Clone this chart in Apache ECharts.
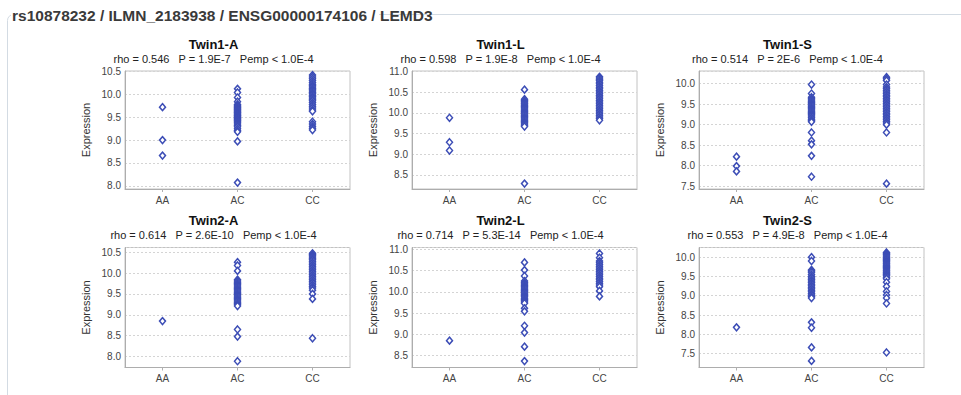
<!DOCTYPE html>
<html><head><meta charset="utf-8">
<script src="https://cdn.jsdelivr.net/npm/echarts@6/dist/echarts.min.js"></script>
<style>html,body{margin:0;padding:0;background:#fff}#c{width:961px;height:395px}</style>
</head><body><div id="c"></div>
<script>
const mainTitle = 'rs10878232 / ILMN_2183938 / ENSG00000174106 / LEMD3';
const genotypes = ['AA', 'AC', 'CC'];
const panelNames = ['Twin1-A', 'Twin1-L', 'Twin1-S', 'Twin2-A', 'Twin2-L', 'Twin2-S'];
const panelStats = [
  'rho = 0.546   P = 1.9E-7   Pemp < 1.0E-4',
  'rho = 0.598   P = 1.9E-8   Pemp < 1.0E-4',
  'rho = 0.514   P = 2E-6   Pemp < 1.0E-4',
  'rho = 0.614   P = 2.6E-10   Pemp < 1.0E-4',
  'rho = 0.714   P = 5.3E-14   Pemp < 1.0E-4',
  'rho = 0.553   P = 4.9E-8   Pemp < 1.0E-4'
];
const yMins = [7.93, 8.16, 7.43, 7.74, 8.22, 7.14];
const yMaxs = [10.51, 11.01, 10.31, 10.61, 11.04, 10.25];
const yAxisName = 'Expression';

// Twin1-A
const t1A_AA = [9.72, 9.00, 8.66];
const t1A_AC = [10.12, 10.04, 9.93, 9.84, 9.78, 9.75, 9.73, 9.71, 9.69, 9.67, 9.65, 9.63, 9.61, 9.59, 9.57, 9.55, 9.53, 9.51, 9.49, 9.47, 9.45, 9.43, 9.41, 9.38, 9.35, 9.32, 9.29, 9.25, 9.21, 9.18, 8.97, 8.07];
const t1A_CC = [10.42, 10.38, 10.34, 10.30, 10.26, 10.22, 10.19, 10.16, 10.13, 10.10, 10.07, 10.04, 10.01, 9.98, 9.95, 9.92, 9.89, 9.86, 9.82, 9.78, 9.74, 9.70, 9.66, 9.63, 9.40, 9.35, 9.30, 9.26, 9.22];
// Twin1-L
const t1L_AA = [9.88, 9.29, 9.09];
const t1L_AC = [10.56, 10.33, 10.30, 10.27, 10.24, 10.21, 10.18, 10.15, 10.12, 10.09, 10.06, 10.03, 10.00, 9.97, 9.94, 9.91, 9.88, 9.85, 9.82, 9.79, 9.76, 9.73, 9.70, 9.67, 8.29];
const t1L_CC = [10.87, 10.84, 10.81, 10.78, 10.74, 10.70, 10.66, 10.62, 10.58, 10.54, 10.50, 10.46, 10.42, 10.38, 10.34, 10.30, 10.26, 10.22, 10.18, 10.14, 10.10, 10.06, 10.02, 9.98, 9.94, 9.90, 9.86, 9.82];
// Twin1-S
const t1S_AA = [8.22, 7.99, 7.86];
const t1S_AC = [9.98, 9.76, 9.67, 9.63, 9.60, 9.57, 9.54, 9.51, 9.48, 9.45, 9.42, 9.39, 9.36, 9.33, 9.30, 9.27, 9.24, 9.21, 9.17, 9.13, 9.10, 9.07, 8.81, 8.61, 8.52, 8.24, 7.73];
const t1S_CC = [10.16, 10.12, 10.08, 9.98, 9.92, 9.88, 9.84, 9.80, 9.76, 9.72, 9.68, 9.64, 9.60, 9.56, 9.52, 9.48, 9.44, 9.40, 9.36, 9.32, 9.28, 9.24, 9.20, 9.16, 9.12, 9.08, 9.04, 9.00, 8.81, 7.56];
// Twin2-A
const t2A_AA = [8.85];
const t2A_AC = [10.26, 10.18, 10.05, 9.84, 9.81, 9.78, 9.75, 9.72, 9.69, 9.66, 9.63, 9.60, 9.57, 9.54, 9.51, 9.48, 9.45, 9.42, 9.39, 9.36, 9.33, 9.30, 9.27, 9.24, 9.21, 8.65, 8.48, 7.89];
const t2A_CC = [10.47, 10.44, 10.41, 10.38, 10.35, 10.32, 10.28, 10.24, 10.20, 10.16, 10.12, 10.08, 10.04, 10.00, 9.96, 9.92, 9.88, 9.84, 9.80, 9.76, 9.72, 9.68, 9.64, 9.59, 9.50, 9.38, 8.44];
// Twin2-L
const t2L_AA = [8.85];
const t2L_AC = [10.69, 10.51, 10.37, 10.25, 10.21, 10.18, 10.15, 10.12, 10.09, 10.06, 10.03, 10.00, 9.97, 9.94, 9.91, 9.88, 9.85, 9.82, 9.79, 9.76, 9.73, 9.61, 9.54, 9.20, 9.04, 8.71, 8.37];
const t2L_CC = [10.90, 10.80, 10.72, 10.68, 10.64, 10.60, 10.56, 10.52, 10.48, 10.44, 10.40, 10.36, 10.32, 10.28, 10.24, 10.20, 10.16, 10.12, 10.02, 9.89];
// Twin2-S
const t2S_AA = [8.18];
const t2S_AC = [10.00, 9.90, 9.67, 9.64, 9.61, 9.55, 9.50, 9.46, 9.42, 9.38, 9.34, 9.30, 9.26, 9.22, 9.18, 9.14, 9.10, 9.06, 9.02, 8.98, 8.94, 8.31, 8.17, 7.66, 7.31];
const t2S_CC = [10.12, 10.09, 10.06, 10.03, 10.00, 9.97, 9.94, 9.91, 9.88, 9.85, 9.82, 9.79, 9.76, 9.73, 9.70, 9.67, 9.64, 9.61, 9.58, 9.55, 9.52, 9.48, 9.44, 9.35, 9.24, 9.11, 9.02, 8.94, 8.80, 7.53];

const panelData = [
  [t1A_AA, t1A_AC, t1A_CC], [t1L_AA, t1L_AC, t1L_CC], [t1S_AA, t1S_AC, t1S_CC],
  [t2A_AA, t2A_AC, t2A_CC], [t2L_AA, t2L_AC, t2L_CC], [t2S_AA, t2S_AC, t2S_CC]
];

const FONT = "'Liberation Sans', Arial, sans-serif";
const colLefts = [125, 412, 699];
const rowTops = [71, 247.5];
const rowHeights = [118, 120];
const titleTops = [37.5, 213.5];
const plotW = 225;

const grids = [], xAxes = [], yAxes = [], series = [], titles = [];
for (let i = 0; i < 6; i++) {
  const r = Math.floor(i / 3), c = i % 3;
  grids.push({left: colLefts[c], top: rowTops[r], width: plotW, height: rowHeights[r],
    show: true, borderColor: '#c2c2c2', borderWidth: 1, backgroundColor: '#fff'});
  xAxes.push({type: 'category', gridIndex: i, data: genotypes, boundaryGap: true,
    axisLine: {show: true, lineStyle: {color: '#adadad', width: 1}},
    axisTick: {show: true, alignWithLabel: true, length: 3, lineStyle: {color: '#b0b0b0'}},
    axisLabel: {fontFamily: FONT, fontSize: 10, color: '#444', margin: 6},
    splitLine: {show: false}});
  yAxes.push({type: 'value', gridIndex: i, min: yMins[i], max: yMaxs[i], splitNumber: 5,
    name: yAxisName, nameLocation: 'middle', nameGap: 34,
    nameTextStyle: {fontFamily: FONT, fontSize: 11, color: '#333'},
    axisLine: {show: true, lineStyle: {color: '#adadad', width: 1}},
    axisTick: {show: false},
    axisLabel: {fontFamily: FONT, fontSize: 10, color: '#444', margin: 4,
      formatter: v => (Math.abs(v * 2 - Math.round(v * 2)) < 1e-6 ? v.toFixed(1) : '')},
    splitLine: {show: true, lineStyle: {color: '#d4d4d4', type: [2, 2], width: 1}}});
  const d = [];
  genotypes.forEach((g, k) => panelData[i][k].forEach(v => d.push([g, v])));
  series.push({type: 'scatter', xAxisIndex: i, yAxisIndex: i, data: d,
    symbol: 'diamond', symbolSize: [6, 7], silent: true,
    itemStyle: {color: '#ffffff', borderColor: '#3c4db6', borderWidth: 1.5, opacity: 1}});
  titles.push({text: panelNames[i], subtext: panelStats[i], left: colLefts[c] + plotW / 2 - 24,
    top: titleTops[r], textAlign: 'center', padding: 0, itemGap: 3,
    textStyle: {fontFamily: FONT, fontSize: 13, fontWeight: 'bold', color: '#111'},
    subtextStyle: {fontFamily: FONT, fontSize: 11, color: '#222'}});
}

const chart = echarts.init(document.getElementById('c'), null, {renderer: 'svg'});
chart.setOption({
  animation: false,
  backgroundColor: '#fff',
  title: titles,
  grid: grids, xAxis: xAxes, yAxis: yAxes, series: series,
  graphic: [
    {type: 'rect', z: 0, silent: true, shape: {x: 7.5, y: 14.5, width: 1000, height: 500, r: 6},
      style: {fill: 'none', stroke: '#d3dbe3', lineWidth: 1}},
    {type: 'rect', z: 10, silent: true, shape: {x: 11, y: 5, width: 368, height: 19},
      style: {fill: '#fff'}},
    {type: 'text', z: 11, silent: true, x: 12, y: 15.5,
      style: {text: mainTitle, font: 'bold 15.5px ' + FONT, fill: '#3a3a3a', textVerticalAlign: 'middle'}}
  ]
});
</script></body></html>
